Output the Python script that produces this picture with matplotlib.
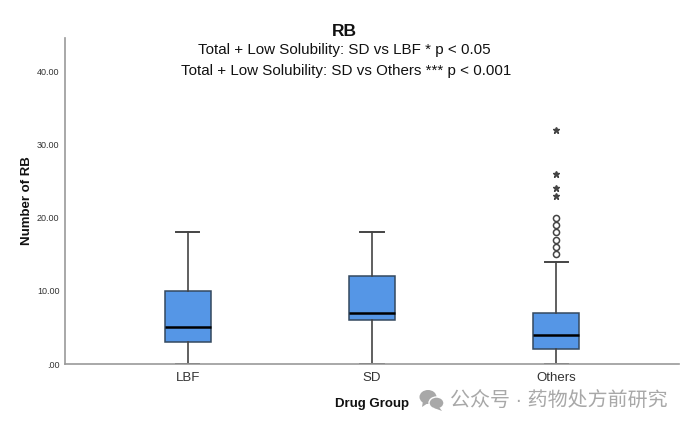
import matplotlib
matplotlib.use("Agg")
import matplotlib.pyplot as plt
from matplotlib.patches import Ellipse, Polygon
from matplotlib.transforms import ScaledTranslation

plt.rcParams['font.family'] = ['Liberation Sans', 'Noto Sans CJK SC', 'DejaVu Sans']

groups = ['LBF', 'SD', 'Others']
whisker_low = [0, 0, 0]
q1 = [3, 6, 2]
medians = [5, 7, 4]
q3 = [10, 12, 7]
whisker_high = [18, 18, 14]
others_circles = [15, 16, 17, 18, 19, 20]
others_stars = [23, 24, 26, 32]
y_ticks = [0, 10, 20, 30, 40]
y_tick_labels = ['.00', '10.00', '20.00', '30.00', '40.00']

W, H = 690, 428
fig = plt.figure(figsize=(W / 100, H / 100), dpi=100)
ax = fig.add_axes([65 / W, 1 - 364 / H, (679 - 65) / W, (364 - 38) / H])

stats = []
for i in range(len(groups)):
    stats.append({'label': groups[i], 'whislo': whisker_low[i], 'q1': q1[i], 'med': medians[i],
                  'q3': q3[i], 'whishi': whisker_high[i], 'fliers': []})

line_col = '#444444'
ax.bxp(stats, positions=range(3), widths=0.25, patch_artist=True, showfliers=False,
       boxprops=dict(facecolor='#5596e6', edgecolor='#34495f', linewidth=1.1),
       medianprops=dict(color='black', linewidth=1.8),
       whiskerprops=dict(color=line_col, linewidth=1.2),
       capprops=dict(color=line_col, linewidth=1.4),
       capwidths=0.125)

# outliers for the last group
ax.plot([2] * len(others_circles), others_circles, 'o', mfc='white', mec='#444444', mew=1.1, ms=4.4, ls='none')
ax.plot([2] * len(others_stars), others_stars, '*', color='#444444', ms=4.8, ls='none')

ax.set_xlim(-0.668, 2.668)
ax.set_ylim(0, 44.55)
ax.set_xticks(range(3))
ax.set_xticklabels(groups, fontsize=9.5, color='#333333')
ax.set_yticks(y_ticks)
ax.set_yticklabels(y_tick_labels, fontsize=6.5, color='#333333')
# y labels sit a little under the tick positions in the original
shift = ScaledTranslation(0, -1.5 / 100, fig.dpi_scale_trans)
for lab in ax.get_yticklabels():
    lab.set_transform(lab.get_transform() + shift)
ax.tick_params(length=0, pad=4)
ax.tick_params(axis='x', pad=6)
for side in ['top', 'right']:
    ax.spines[side].set_visible(False)
for side in ['left', 'bottom']:
    ax.spines[side].set_color('#999999')
    ax.spines[side].set_linewidth(1.2)

ax.set_xlabel('Drug Group', fontsize=9.5, fontweight='bold', color='#111111', labelpad=9.5)
ax.set_ylabel('Number of RB', fontsize=9.5, fontweight='bold', color='#111111', labelpad=3)

fig.text(344 / W, 1 - 31.5 / H, 'RB', ha='center', va='center', fontsize=12.5, fontweight='bold', color='#111111')
fig.text(344 / W, 1 - 50 / H, 'Total + Low Solubility: SD vs LBF * p < 0.05', ha='center', va='center',
         fontsize=10.9, color='#111111')
fig.text(346 / W, 1 - 71 / H, 'Total + Low Solubility: SD vs Others *** p < 0.001', ha='center', va='center',
         fontsize=10.9, color='#111111')

# watermark
wm = '#a8a8a8'
fig.text(450 / W, 1 - 400 / H, '公众号 · 药物处方前研究', ha='left', va='center', fontsize=14.4, color=wm)
overlay = fig.add_axes([0, 0, 1, 1], facecolor='none')
overlay.set_xlim(0, W)
overlay.set_ylim(H, 0)
overlay.axis('off')
overlay.add_patch(Ellipse((428, 397), 17, 14, color=wm, lw=0))
overlay.add_patch(Polygon([(423, 401), (422, 407), (428, 403)], color=wm, lw=0))
overlay.add_patch(Ellipse((436.5, 403), 15, 12, fc=wm, ec='white', lw=1))
overlay.add_patch(Polygon([(439, 407), (442, 411), (434, 408)], color=wm, lw=0))

fig.savefig('out.png', dpi=100)
